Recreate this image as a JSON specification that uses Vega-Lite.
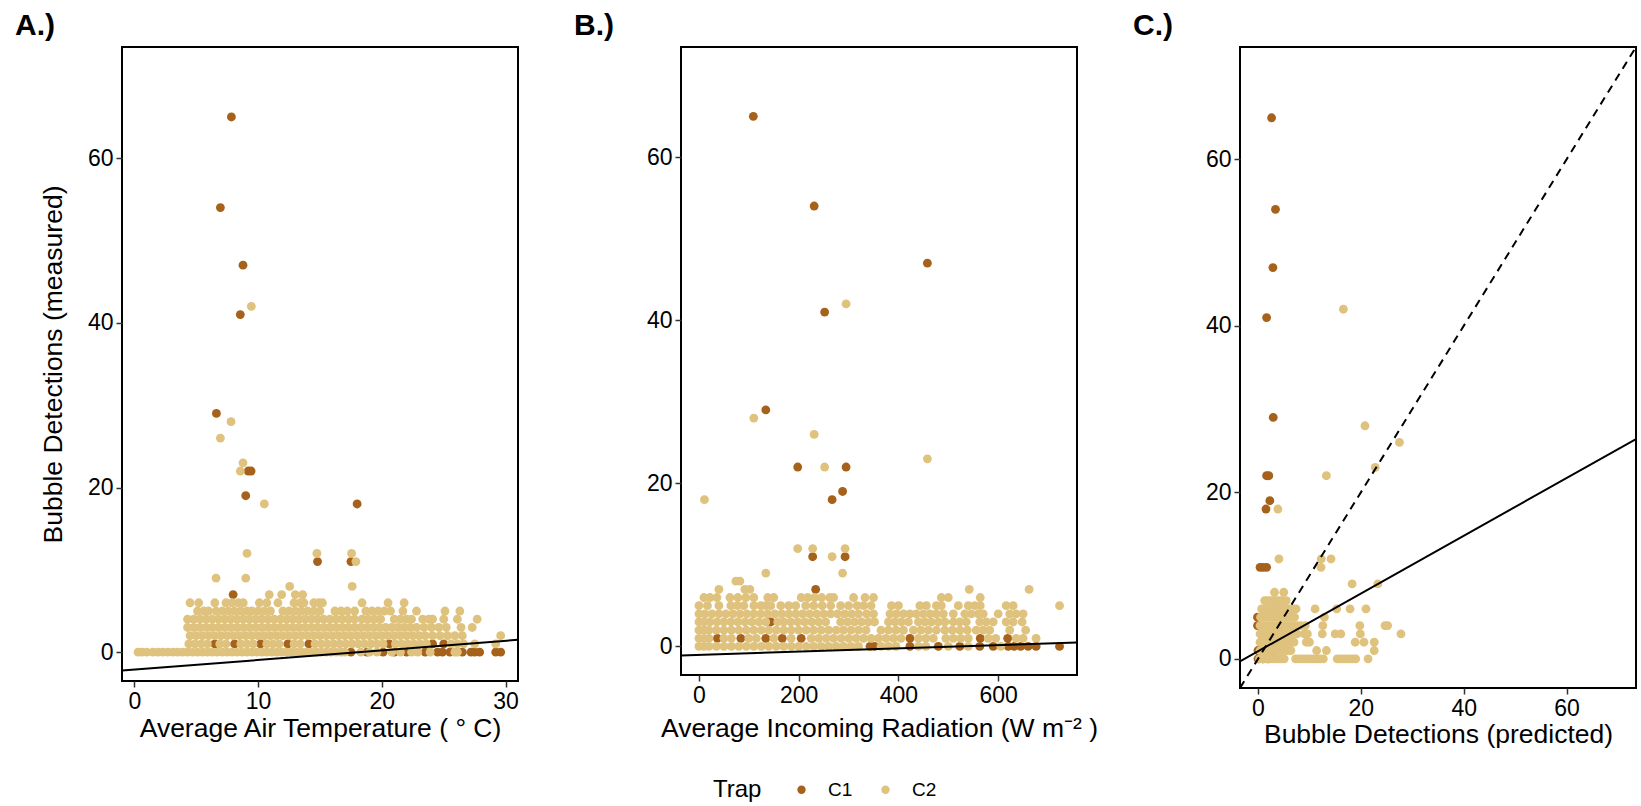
{
"$schema": "https://vega.github.io/schema/vega-lite/v6.json",
"padding": {"left": 14, "top": 10, "right": 5, "bottom": 5},
"background": "white",
"config": {
 "font": "Liberation Sans",
 "view": {"stroke": "black", "strokeWidth": 2},
 "axis": {"domain": false, "grid": false, "tickColor": "#333333", "tickSize": 6, "tickWidth": 1.5, "labelFontSize": 23, "labelColor": "black", "labelPadding": 3, "titleFontSize": 26.5, "titleFontWeight": "normal", "titleColor": "black", "labelFont": "Liberation Sans", "titleFont": "Liberation Sans"},
 "title": {"font": "Liberation Sans", "fontSize": 30, "fontWeight": "bold", "anchor": "start", "frame": "group", "dx": -107, "offset": 6, "color": "black"},
 "legend": {"labelFont": "Liberation Sans", "titleFont": "Liberation Sans"}
},
"datasets": {
 "a": [
{"x":7.84,"y":65,"Trap":"C1"},{"x":6.95,"y":54,"Trap":"C1"},{"x":8.78,"y":47,"Trap":"C1"},{"x":8.56,"y":41,"Trap":"C1"},{"x":6.63,"y":29,"Trap":"C1"},{"x":9.2,"y":22,"Trap":"C1"},{"x":9.43,"y":22,"Trap":"C1"},{"x":9.0,"y":19,"Trap":"C1"},{"x":18.0,"y":18,"Trap":"C1"},{"x":14.8,"y":11,"Trap":"C1"},{"x":17.5,"y":11,"Trap":"C1"},{"x":7.98,"y":7,"Trap":"C1"},
{"x":6.5,"y":1,"Trap":"C1"},{"x":8.1,"y":1,"Trap":"C1"},{"x":10.2,"y":1,"Trap":"C1"},{"x":12.4,"y":1,"Trap":"C1"},{"x":14.1,"y":1,"Trap":"C1"},{"x":20.6,"y":1,"Trap":"C1"},{"x":24.1,"y":1,"Trap":"C1"},{"x":25.0,"y":1,"Trap":"C1"},
{"x":17.5,"y":0,"Trap":"C1"},{"x":18.8,"y":0,"Trap":"C1"},{"x":20.1,"y":0,"Trap":"C1"},{"x":21.0,"y":0,"Trap":"C1"},{"x":22.0,"y":0,"Trap":"C1"},{"x":23.5,"y":0,"Trap":"C1"},{"x":24.5,"y":0,"Trap":"C1"},{"x":24.9,"y":0,"Trap":"C1"},{"x":25.5,"y":0,"Trap":"C1"},{"x":26.5,"y":0,"Trap":"C1"},{"x":27.2,"y":0,"Trap":"C1"},{"x":27.5,"y":0,"Trap":"C1"},{"x":27.9,"y":0,"Trap":"C1"},{"x":29.2,"y":0,"Trap":"C1"},{"x":29.6,"y":0,"Trap":"C1"},
{"x":9.45,"y":42,"Trap":"C2"},{"x":7.81,"y":28,"Trap":"C2"},{"x":6.95,"y":26,"Trap":"C2"},{"x":8.78,"y":23,"Trap":"C2"},{"x":8.56,"y":22,"Trap":"C2"},{"x":10.5,"y":18,"Trap":"C2"},{"x":9.1,"y":12,"Trap":"C2"},{"x":14.75,"y":12,"Trap":"C2"},{"x":17.55,"y":12,"Trap":"C2"},{"x":17.9,"y":11,"Trap":"C2"},{"x":6.6,"y":9,"Trap":"C2"},{"x":9.0,"y":9,"Trap":"C2"},{"x":17.6,"y":8,"Trap":"C2"},{"x":12.55,"y":8,"Trap":"C2"},
{"x":10.9,"y":7,"Trap":"C2"},{"x":11.9,"y":7,"Trap":"C2"},{"x":13.0,"y":7,"Trap":"C2"},{"x":13.6,"y":7,"Trap":"C2"},
{"x":4.5,"y":6,"Trap":"C2"},{"x":5.2,"y":6,"Trap":"C2"},{"x":6.5,"y":6,"Trap":"C2"},{"x":7.4,"y":6,"Trap":"C2"},{"x":7.9,"y":6,"Trap":"C2"},{"x":8.4,"y":6,"Trap":"C2"},{"x":8.8,"y":6,"Trap":"C2"},{"x":10.1,"y":6,"Trap":"C2"},{"x":10.7,"y":6,"Trap":"C2"},{"x":11.6,"y":6,"Trap":"C2"},{"x":12.9,"y":6,"Trap":"C2"},{"x":13.4,"y":6,"Trap":"C2"},{"x":13.7,"y":6,"Trap":"C2"},{"x":14.5,"y":6,"Trap":"C2"},{"x":14.9,"y":6,"Trap":"C2"},{"x":15.2,"y":6,"Trap":"C2"},{"x":18.4,"y":6,"Trap":"C2"},{"x":20.5,"y":6,"Trap":"C2"},{"x":21.8,"y":6,"Trap":"C2"},
{"x":5.1,"y":5,"Trap":"C2"},{"x":5.6,"y":5,"Trap":"C2"},{"x":6.0,"y":5,"Trap":"C2"},{"x":6.6,"y":5,"Trap":"C2"},{"x":7.1,"y":5,"Trap":"C2"},{"x":7.6,"y":5,"Trap":"C2"},{"x":8.1,"y":5,"Trap":"C2"},{"x":8.6,"y":5,"Trap":"C2"},{"x":9.1,"y":5,"Trap":"C2"},{"x":9.5,"y":5,"Trap":"C2"},{"x":10.0,"y":5,"Trap":"C2"},{"x":10.5,"y":5,"Trap":"C2"},{"x":11.0,"y":5,"Trap":"C2"},{"x":12.0,"y":5,"Trap":"C2"},{"x":12.5,"y":5,"Trap":"C2"},{"x":13.0,"y":5,"Trap":"C2"},{"x":13.5,"y":5,"Trap":"C2"},{"x":14.0,"y":5,"Trap":"C2"},{"x":14.5,"y":5,"Trap":"C2"},{"x":15.0,"y":5,"Trap":"C2"},{"x":16.2,"y":5,"Trap":"C2"},{"x":16.7,"y":5,"Trap":"C2"},{"x":17.2,"y":5,"Trap":"C2"},{"x":17.8,"y":5,"Trap":"C2"},{"x":18.7,"y":5,"Trap":"C2"},{"x":19.2,"y":5,"Trap":"C2"},{"x":19.7,"y":5,"Trap":"C2"},{"x":20.2,"y":5,"Trap":"C2"},{"x":20.7,"y":5,"Trap":"C2"},{"x":21.7,"y":5,"Trap":"C2"},{"x":22.8,"y":5,"Trap":"C2"},{"x":25.1,"y":5,"Trap":"C2"},{"x":26.3,"y":5,"Trap":"C2"},
{"x":4.3,"y":4,"Trap":"C2"},{"x":4.8,"y":4,"Trap":"C2"},{"x":5.3,"y":4,"Trap":"C2"},{"x":5.8,"y":4,"Trap":"C2"},{"x":6.3,"y":4,"Trap":"C2"},{"x":6.8,"y":4,"Trap":"C2"},{"x":7.3,"y":4,"Trap":"C2"},{"x":7.8,"y":4,"Trap":"C2"},{"x":8.3,"y":4,"Trap":"C2"},{"x":8.8,"y":4,"Trap":"C2"},{"x":9.3,"y":4,"Trap":"C2"},{"x":9.8,"y":4,"Trap":"C2"},{"x":10.3,"y":4,"Trap":"C2"},{"x":10.8,"y":4,"Trap":"C2"},{"x":11.3,"y":4,"Trap":"C2"},{"x":11.8,"y":4,"Trap":"C2"},{"x":12.3,"y":4,"Trap":"C2"},{"x":12.8,"y":4,"Trap":"C2"},{"x":13.3,"y":4,"Trap":"C2"},{"x":13.8,"y":4,"Trap":"C2"},{"x":14.3,"y":4,"Trap":"C2"},{"x":14.8,"y":4,"Trap":"C2"},{"x":15.3,"y":4,"Trap":"C2"},{"x":15.8,"y":4,"Trap":"C2"},{"x":16.3,"y":4,"Trap":"C2"},{"x":16.8,"y":4,"Trap":"C2"},{"x":17.3,"y":4,"Trap":"C2"},{"x":17.8,"y":4,"Trap":"C2"},{"x":18.4,"y":4,"Trap":"C2"},{"x":18.9,"y":4,"Trap":"C2"},{"x":19.4,"y":4,"Trap":"C2"},{"x":19.9,"y":4,"Trap":"C2"},{"x":21.0,"y":4,"Trap":"C2"},{"x":21.5,"y":4,"Trap":"C2"},{"x":22.0,"y":4,"Trap":"C2"},{"x":22.4,"y":4,"Trap":"C2"},{"x":23.3,"y":4,"Trap":"C2"},{"x":23.8,"y":4,"Trap":"C2"},{"x":24.1,"y":4,"Trap":"C2"},{"x":25.0,"y":4,"Trap":"C2"},{"x":26.1,"y":4,"Trap":"C2"},{"x":27.7,"y":4,"Trap":"C2"},
{"x":4.3,"y":3,"Trap":"C2"},{"x":4.8,"y":3,"Trap":"C2"},{"x":5.3,"y":3,"Trap":"C2"},{"x":5.8,"y":3,"Trap":"C2"},{"x":6.3,"y":3,"Trap":"C2"},{"x":6.8,"y":3,"Trap":"C2"},{"x":7.3,"y":3,"Trap":"C2"},{"x":7.8,"y":3,"Trap":"C2"},{"x":8.3,"y":3,"Trap":"C2"},{"x":8.8,"y":3,"Trap":"C2"},{"x":9.3,"y":3,"Trap":"C2"},{"x":9.8,"y":3,"Trap":"C2"},{"x":10.3,"y":3,"Trap":"C2"},{"x":10.8,"y":3,"Trap":"C2"},{"x":11.3,"y":3,"Trap":"C2"},{"x":11.8,"y":3,"Trap":"C2"},{"x":12.3,"y":3,"Trap":"C2"},{"x":12.8,"y":3,"Trap":"C2"},{"x":13.3,"y":3,"Trap":"C2"},{"x":13.8,"y":3,"Trap":"C2"},{"x":14.3,"y":3,"Trap":"C2"},{"x":14.8,"y":3,"Trap":"C2"},{"x":15.3,"y":3,"Trap":"C2"},{"x":15.8,"y":3,"Trap":"C2"},{"x":16.3,"y":3,"Trap":"C2"},{"x":16.8,"y":3,"Trap":"C2"},{"x":17.3,"y":3,"Trap":"C2"},{"x":17.8,"y":3,"Trap":"C2"},{"x":18.3,"y":3,"Trap":"C2"},{"x":18.8,"y":3,"Trap":"C2"},{"x":19.3,"y":3,"Trap":"C2"},{"x":19.8,"y":3,"Trap":"C2"},{"x":20.3,"y":3,"Trap":"C2"},{"x":20.8,"y":3,"Trap":"C2"},{"x":21.3,"y":3,"Trap":"C2"},{"x":21.8,"y":3,"Trap":"C2"},{"x":22.3,"y":3,"Trap":"C2"},{"x":22.8,"y":3,"Trap":"C2"},{"x":23.4,"y":3,"Trap":"C2"},{"x":24.0,"y":3,"Trap":"C2"},{"x":24.6,"y":3,"Trap":"C2"},{"x":25.2,"y":3,"Trap":"C2"},{"x":26.4,"y":3,"Trap":"C2"},{"x":27.3,"y":3,"Trap":"C2"},
{"x":4.5,"y":2,"Trap":"C2"},{"x":5.0,"y":2,"Trap":"C2"},{"x":5.5,"y":2,"Trap":"C2"},{"x":6.0,"y":2,"Trap":"C2"},{"x":6.5,"y":2,"Trap":"C2"},{"x":7.0,"y":2,"Trap":"C2"},{"x":7.5,"y":2,"Trap":"C2"},{"x":8.0,"y":2,"Trap":"C2"},{"x":8.5,"y":2,"Trap":"C2"},{"x":9.0,"y":2,"Trap":"C2"},{"x":9.5,"y":2,"Trap":"C2"},{"x":10.0,"y":2,"Trap":"C2"},{"x":10.5,"y":2,"Trap":"C2"},{"x":11.0,"y":2,"Trap":"C2"},{"x":11.5,"y":2,"Trap":"C2"},{"x":12.0,"y":2,"Trap":"C2"},{"x":12.5,"y":2,"Trap":"C2"},{"x":13.0,"y":2,"Trap":"C2"},{"x":13.5,"y":2,"Trap":"C2"},{"x":14.0,"y":2,"Trap":"C2"},{"x":14.5,"y":2,"Trap":"C2"},{"x":15.0,"y":2,"Trap":"C2"},{"x":15.5,"y":2,"Trap":"C2"},{"x":16.0,"y":2,"Trap":"C2"},{"x":16.5,"y":2,"Trap":"C2"},{"x":17.0,"y":2,"Trap":"C2"},{"x":17.5,"y":2,"Trap":"C2"},{"x":18.0,"y":2,"Trap":"C2"},{"x":18.5,"y":2,"Trap":"C2"},{"x":19.0,"y":2,"Trap":"C2"},{"x":19.5,"y":2,"Trap":"C2"},{"x":20.0,"y":2,"Trap":"C2"},{"x":20.5,"y":2,"Trap":"C2"},{"x":21.0,"y":2,"Trap":"C2"},{"x":21.5,"y":2,"Trap":"C2"},{"x":22.0,"y":2,"Trap":"C2"},{"x":22.5,"y":2,"Trap":"C2"},{"x":23.0,"y":2,"Trap":"C2"},{"x":23.5,"y":2,"Trap":"C2"},{"x":24.1,"y":2,"Trap":"C2"},{"x":24.7,"y":2,"Trap":"C2"},{"x":25.3,"y":2,"Trap":"C2"},{"x":25.9,"y":2,"Trap":"C2"},{"x":26.5,"y":2,"Trap":"C2"},{"x":29.6,"y":2,"Trap":"C2"},
{"x":4.4,"y":1,"Trap":"C2"},{"x":4.9,"y":1,"Trap":"C2"},{"x":5.4,"y":1,"Trap":"C2"},{"x":5.9,"y":1,"Trap":"C2"},{"x":6.9,"y":1,"Trap":"C2"},{"x":7.4,"y":1,"Trap":"C2"},{"x":8.6,"y":1,"Trap":"C2"},{"x":9.1,"y":1,"Trap":"C2"},{"x":9.6,"y":1,"Trap":"C2"},{"x":10.7,"y":1,"Trap":"C2"},{"x":11.2,"y":1,"Trap":"C2"},{"x":11.7,"y":1,"Trap":"C2"},{"x":12.9,"y":1,"Trap":"C2"},{"x":13.4,"y":1,"Trap":"C2"},{"x":14.6,"y":1,"Trap":"C2"},{"x":15.1,"y":1,"Trap":"C2"},{"x":15.6,"y":1,"Trap":"C2"},{"x":16.1,"y":1,"Trap":"C2"},{"x":16.6,"y":1,"Trap":"C2"},{"x":17.1,"y":1,"Trap":"C2"},{"x":17.6,"y":1,"Trap":"C2"},{"x":18.1,"y":1,"Trap":"C2"},{"x":18.6,"y":1,"Trap":"C2"},{"x":19.1,"y":1,"Trap":"C2"},{"x":19.6,"y":1,"Trap":"C2"},{"x":20.1,"y":1,"Trap":"C2"},{"x":21.1,"y":1,"Trap":"C2"},{"x":21.6,"y":1,"Trap":"C2"},{"x":22.1,"y":1,"Trap":"C2"},{"x":22.6,"y":1,"Trap":"C2"},{"x":23.1,"y":1,"Trap":"C2"},{"x":23.6,"y":1,"Trap":"C2"},{"x":25.6,"y":1,"Trap":"C2"},{"x":26.1,"y":1,"Trap":"C2"},{"x":26.6,"y":1,"Trap":"C2"},{"x":27.5,"y":1,"Trap":"C2"},{"x":29.2,"y":1,"Trap":"C2"},
{"x":0.3,"y":0,"Trap":"C2"},{"x":0.6,"y":0,"Trap":"C2"},{"x":1.0,"y":0,"Trap":"C2"},{"x":1.5,"y":0,"Trap":"C2"},{"x":1.9,"y":0,"Trap":"C2"},{"x":2.3,"y":0,"Trap":"C2"},{"x":2.7,"y":0,"Trap":"C2"},{"x":3.1,"y":0,"Trap":"C2"},{"x":3.5,"y":0,"Trap":"C2"},{"x":3.9,"y":0,"Trap":"C2"},{"x":4.3,"y":0,"Trap":"C2"},{"x":4.7,"y":0,"Trap":"C2"},{"x":5.1,"y":0,"Trap":"C2"},{"x":5.5,"y":0,"Trap":"C2"},{"x":5.9,"y":0,"Trap":"C2"},{"x":6.3,"y":0,"Trap":"C2"},{"x":6.7,"y":0,"Trap":"C2"},{"x":7.1,"y":0,"Trap":"C2"},{"x":7.5,"y":0,"Trap":"C2"},{"x":7.9,"y":0,"Trap":"C2"},{"x":8.3,"y":0,"Trap":"C2"},{"x":8.7,"y":0,"Trap":"C2"},{"x":9.1,"y":0,"Trap":"C2"},{"x":9.5,"y":0,"Trap":"C2"},{"x":9.9,"y":0,"Trap":"C2"},{"x":10.3,"y":0,"Trap":"C2"},{"x":10.7,"y":0,"Trap":"C2"},{"x":11.1,"y":0,"Trap":"C2"},{"x":11.5,"y":0,"Trap":"C2"},{"x":11.9,"y":0,"Trap":"C2"},{"x":12.3,"y":0,"Trap":"C2"},{"x":12.7,"y":0,"Trap":"C2"},{"x":13.1,"y":0,"Trap":"C2"},{"x":13.5,"y":0,"Trap":"C2"},{"x":13.9,"y":0,"Trap":"C2"},{"x":14.3,"y":0,"Trap":"C2"},{"x":14.7,"y":0,"Trap":"C2"},{"x":15.1,"y":0,"Trap":"C2"},{"x":15.5,"y":0,"Trap":"C2"},{"x":15.9,"y":0,"Trap":"C2"},{"x":16.3,"y":0,"Trap":"C2"},{"x":16.7,"y":0,"Trap":"C2"},{"x":17.0,"y":0,"Trap":"C2"},{"x":18.3,"y":0,"Trap":"C2"},{"x":19.0,"y":0,"Trap":"C2"},{"x":19.6,"y":0,"Trap":"C2"},{"x":20.8,"y":0,"Trap":"C2"},{"x":21.5,"y":0,"Trap":"C2"},{"x":22.4,"y":0,"Trap":"C2"},{"x":22.9,"y":0,"Trap":"C2"},{"x":23.9,"y":0,"Trap":"C2"},{"x":25.9,"y":0,"Trap":"C2"},{"x":26.1,"y":0,"Trap":"C2"}
 ],
 "b": [
{"x":109,"y":65,"Trap":"C1"},{"x":231,"y":54,"Trap":"C1"},{"x":458,"y":47,"Trap":"C1"},{"x":252,"y":41,"Trap":"C1"},{"x":134,"y":29,"Trap":"C1"},{"x":198,"y":22,"Trap":"C1"},{"x":295,"y":22,"Trap":"C1"},{"x":288,"y":19,"Trap":"C1"},{"x":267,"y":18,"Trap":"C1"},{"x":228,"y":11,"Trap":"C1"},{"x":293,"y":11,"Trap":"C1"},{"x":234,"y":7,"Trap":"C1"},{"x":144,"y":3,"Trap":"C1"},
{"x":37,"y":1,"Trap":"C1"},{"x":84,"y":1,"Trap":"C1"},{"x":134,"y":1,"Trap":"C1"},{"x":167,"y":1,"Trap":"C1"},{"x":205,"y":1,"Trap":"C1"},{"x":423,"y":1,"Trap":"C1"},{"x":564,"y":1,"Trap":"C1"},{"x":619,"y":1,"Trap":"C1"},
{"x":343,"y":0,"Trap":"C1"},{"x":352,"y":0,"Trap":"C1"},{"x":423,"y":0,"Trap":"C1"},{"x":480,"y":0,"Trap":"C1"},{"x":523,"y":0,"Trap":"C1"},{"x":563,"y":0,"Trap":"C1"},{"x":590,"y":0,"Trap":"C1"},{"x":620,"y":0,"Trap":"C1"},{"x":632,"y":0,"Trap":"C1"},{"x":645,"y":0,"Trap":"C1"},{"x":660,"y":0,"Trap":"C1"},{"x":676,"y":0,"Trap":"C1"},{"x":723,"y":0,"Trap":"C1"},
{"x":295,"y":42,"Trap":"C2"},{"x":110,"y":28,"Trap":"C2"},{"x":231,"y":26,"Trap":"C2"},{"x":458,"y":23,"Trap":"C2"},{"x":252,"y":22,"Trap":"C2"},{"x":11,"y":18,"Trap":"C2"},{"x":198,"y":12,"Trap":"C2"},{"x":228,"y":12,"Trap":"C2"},{"x":293,"y":12,"Trap":"C2"},{"x":267,"y":11,"Trap":"C2"},{"x":134,"y":9,"Trap":"C2"},{"x":288,"y":9,"Trap":"C2"},{"x":74,"y":8,"Trap":"C2"},{"x":82,"y":8,"Trap":"C2"},{"x":40,"y":7,"Trap":"C2"},{"x":92,"y":7,"Trap":"C2"},{"x":102,"y":7,"Trap":"C2"},{"x":542,"y":7,"Trap":"C2"},{"x":662,"y":7,"Trap":"C2"},{"x":723,"y":5,"Trap":"C2"},
{"x":10,"y":6,"Trap":"C2"},{"x":22,"y":6,"Trap":"C2"},{"x":36,"y":6,"Trap":"C2"},{"x":62,"y":6,"Trap":"C2"},{"x":78,"y":6,"Trap":"C2"},{"x":94,"y":6,"Trap":"C2"},{"x":110,"y":6,"Trap":"C2"},{"x":138,"y":6,"Trap":"C2"},{"x":150,"y":6,"Trap":"C2"},{"x":205,"y":6,"Trap":"C2"},{"x":218,"y":6,"Trap":"C2"},{"x":232,"y":6,"Trap":"C2"},{"x":246,"y":6,"Trap":"C2"},{"x":262,"y":6,"Trap":"C2"},{"x":270,"y":6,"Trap":"C2"},{"x":310,"y":6,"Trap":"C2"},{"x":333,"y":6,"Trap":"C2"},{"x":350,"y":6,"Trap":"C2"},{"x":486,"y":6,"Trap":"C2"},{"x":500,"y":6,"Trap":"C2"},{"x":564,"y":6,"Trap":"C2"},
{"x":0,"y":5,"Trap":"C2"},{"x":17,"y":5,"Trap":"C2"},{"x":40,"y":5,"Trap":"C2"},{"x":64,"y":5,"Trap":"C2"},{"x":77,"y":5,"Trap":"C2"},{"x":90,"y":5,"Trap":"C2"},{"x":110,"y":5,"Trap":"C2"},{"x":124,"y":5,"Trap":"C2"},{"x":134,"y":5,"Trap":"C2"},{"x":144,"y":5,"Trap":"C2"},{"x":164,"y":5,"Trap":"C2"},{"x":180,"y":5,"Trap":"C2"},{"x":194,"y":5,"Trap":"C2"},{"x":214,"y":5,"Trap":"C2"},{"x":230,"y":5,"Trap":"C2"},{"x":247,"y":5,"Trap":"C2"},{"x":264,"y":5,"Trap":"C2"},{"x":284,"y":5,"Trap":"C2"},{"x":300,"y":5,"Trap":"C2"},{"x":317,"y":5,"Trap":"C2"},{"x":330,"y":5,"Trap":"C2"},{"x":345,"y":5,"Trap":"C2"},{"x":386,"y":5,"Trap":"C2"},{"x":400,"y":5,"Trap":"C2"},{"x":443,"y":5,"Trap":"C2"},{"x":456,"y":5,"Trap":"C2"},{"x":476,"y":5,"Trap":"C2"},{"x":486,"y":5,"Trap":"C2"},{"x":520,"y":5,"Trap":"C2"},{"x":540,"y":5,"Trap":"C2"},{"x":553,"y":5,"Trap":"C2"},{"x":564,"y":5,"Trap":"C2"},{"x":616,"y":5,"Trap":"C2"},{"x":630,"y":5,"Trap":"C2"},
{"x":0,"y":4,"Trap":"C2"},{"x":12,"y":4,"Trap":"C2"},{"x":26,"y":4,"Trap":"C2"},{"x":40,"y":4,"Trap":"C2"},{"x":54,"y":4,"Trap":"C2"},{"x":68,"y":4,"Trap":"C2"},{"x":82,"y":4,"Trap":"C2"},{"x":96,"y":4,"Trap":"C2"},{"x":110,"y":4,"Trap":"C2"},{"x":124,"y":4,"Trap":"C2"},{"x":138,"y":4,"Trap":"C2"},{"x":152,"y":4,"Trap":"C2"},{"x":166,"y":4,"Trap":"C2"},{"x":180,"y":4,"Trap":"C2"},{"x":194,"y":4,"Trap":"C2"},{"x":208,"y":4,"Trap":"C2"},{"x":222,"y":4,"Trap":"C2"},{"x":236,"y":4,"Trap":"C2"},{"x":250,"y":4,"Trap":"C2"},{"x":264,"y":4,"Trap":"C2"},{"x":278,"y":4,"Trap":"C2"},{"x":292,"y":4,"Trap":"C2"},{"x":306,"y":4,"Trap":"C2"},{"x":320,"y":4,"Trap":"C2"},{"x":336,"y":4,"Trap":"C2"},{"x":350,"y":4,"Trap":"C2"},{"x":383,"y":4,"Trap":"C2"},{"x":396,"y":4,"Trap":"C2"},{"x":410,"y":4,"Trap":"C2"},{"x":423,"y":4,"Trap":"C2"},{"x":436,"y":4,"Trap":"C2"},{"x":450,"y":4,"Trap":"C2"},{"x":463,"y":4,"Trap":"C2"},{"x":476,"y":4,"Trap":"C2"},{"x":490,"y":4,"Trap":"C2"},{"x":510,"y":4,"Trap":"C2"},{"x":533,"y":4,"Trap":"C2"},{"x":546,"y":4,"Trap":"C2"},{"x":560,"y":4,"Trap":"C2"},{"x":570,"y":4,"Trap":"C2"},{"x":600,"y":4,"Trap":"C2"},{"x":623,"y":4,"Trap":"C2"},{"x":636,"y":4,"Trap":"C2"},{"x":650,"y":4,"Trap":"C2"},
{"x":0,"y":3,"Trap":"C2"},{"x":10,"y":3,"Trap":"C2"},{"x":22,"y":3,"Trap":"C2"},{"x":36,"y":3,"Trap":"C2"},{"x":50,"y":3,"Trap":"C2"},{"x":64,"y":3,"Trap":"C2"},{"x":78,"y":3,"Trap":"C2"},{"x":92,"y":3,"Trap":"C2"},{"x":106,"y":3,"Trap":"C2"},{"x":120,"y":3,"Trap":"C2"},{"x":134,"y":3,"Trap":"C2"},{"x":158,"y":3,"Trap":"C2"},{"x":170,"y":3,"Trap":"C2"},{"x":184,"y":3,"Trap":"C2"},{"x":198,"y":3,"Trap":"C2"},{"x":212,"y":3,"Trap":"C2"},{"x":226,"y":3,"Trap":"C2"},{"x":240,"y":3,"Trap":"C2"},{"x":254,"y":3,"Trap":"C2"},{"x":284,"y":3,"Trap":"C2"},{"x":298,"y":3,"Trap":"C2"},{"x":312,"y":3,"Trap":"C2"},{"x":326,"y":3,"Trap":"C2"},{"x":340,"y":3,"Trap":"C2"},{"x":352,"y":3,"Trap":"C2"},{"x":380,"y":3,"Trap":"C2"},{"x":393,"y":3,"Trap":"C2"},{"x":406,"y":3,"Trap":"C2"},{"x":420,"y":3,"Trap":"C2"},{"x":440,"y":3,"Trap":"C2"},{"x":453,"y":3,"Trap":"C2"},{"x":466,"y":3,"Trap":"C2"},{"x":480,"y":3,"Trap":"C2"},{"x":493,"y":3,"Trap":"C2"},{"x":510,"y":3,"Trap":"C2"},{"x":523,"y":3,"Trap":"C2"},{"x":536,"y":3,"Trap":"C2"},{"x":563,"y":3,"Trap":"C2"},{"x":576,"y":3,"Trap":"C2"},{"x":590,"y":3,"Trap":"C2"},{"x":616,"y":3,"Trap":"C2"},{"x":630,"y":3,"Trap":"C2"},{"x":648,"y":3,"Trap":"C2"},
{"x":0,"y":2,"Trap":"C2"},{"x":10,"y":2,"Trap":"C2"},{"x":20,"y":2,"Trap":"C2"},{"x":35,"y":2,"Trap":"C2"},{"x":50,"y":2,"Trap":"C2"},{"x":65,"y":2,"Trap":"C2"},{"x":80,"y":2,"Trap":"C2"},{"x":95,"y":2,"Trap":"C2"},{"x":110,"y":2,"Trap":"C2"},{"x":125,"y":2,"Trap":"C2"},{"x":140,"y":2,"Trap":"C2"},{"x":155,"y":2,"Trap":"C2"},{"x":170,"y":2,"Trap":"C2"},{"x":185,"y":2,"Trap":"C2"},{"x":200,"y":2,"Trap":"C2"},{"x":215,"y":2,"Trap":"C2"},{"x":230,"y":2,"Trap":"C2"},{"x":245,"y":2,"Trap":"C2"},{"x":260,"y":2,"Trap":"C2"},{"x":275,"y":2,"Trap":"C2"},{"x":290,"y":2,"Trap":"C2"},{"x":305,"y":2,"Trap":"C2"},{"x":320,"y":2,"Trap":"C2"},{"x":335,"y":2,"Trap":"C2"},{"x":365,"y":2,"Trap":"C2"},{"x":380,"y":2,"Trap":"C2"},{"x":395,"y":2,"Trap":"C2"},{"x":410,"y":2,"Trap":"C2"},{"x":430,"y":2,"Trap":"C2"},{"x":445,"y":2,"Trap":"C2"},{"x":460,"y":2,"Trap":"C2"},{"x":476,"y":2,"Trap":"C2"},{"x":493,"y":2,"Trap":"C2"},{"x":508,"y":2,"Trap":"C2"},{"x":523,"y":2,"Trap":"C2"},{"x":538,"y":2,"Trap":"C2"},{"x":556,"y":2,"Trap":"C2"},{"x":570,"y":2,"Trap":"C2"},{"x":583,"y":2,"Trap":"C2"},{"x":623,"y":2,"Trap":"C2"},{"x":655,"y":2,"Trap":"C2"},
{"x":0,"y":1,"Trap":"C2"},{"x":10,"y":1,"Trap":"C2"},{"x":20,"y":1,"Trap":"C2"},{"x":50,"y":1,"Trap":"C2"},{"x":65,"y":1,"Trap":"C2"},{"x":100,"y":1,"Trap":"C2"},{"x":115,"y":1,"Trap":"C2"},{"x":150,"y":1,"Trap":"C2"},{"x":185,"y":1,"Trap":"C2"},{"x":225,"y":1,"Trap":"C2"},{"x":240,"y":1,"Trap":"C2"},{"x":255,"y":1,"Trap":"C2"},{"x":270,"y":1,"Trap":"C2"},{"x":285,"y":1,"Trap":"C2"},{"x":300,"y":1,"Trap":"C2"},{"x":315,"y":1,"Trap":"C2"},{"x":330,"y":1,"Trap":"C2"},{"x":345,"y":1,"Trap":"C2"},{"x":360,"y":1,"Trap":"C2"},{"x":375,"y":1,"Trap":"C2"},{"x":390,"y":1,"Trap":"C2"},{"x":405,"y":1,"Trap":"C2"},{"x":440,"y":1,"Trap":"C2"},{"x":455,"y":1,"Trap":"C2"},{"x":470,"y":1,"Trap":"C2"},{"x":495,"y":1,"Trap":"C2"},{"x":510,"y":1,"Trap":"C2"},{"x":525,"y":1,"Trap":"C2"},{"x":540,"y":1,"Trap":"C2"},{"x":580,"y":1,"Trap":"C2"},{"x":595,"y":1,"Trap":"C2"},{"x":636,"y":1,"Trap":"C2"},{"x":650,"y":1,"Trap":"C2"},{"x":676,"y":1,"Trap":"C2"},
{"x":0,"y":0,"Trap":"C2"},{"x":10,"y":0,"Trap":"C2"},{"x":20,"y":0,"Trap":"C2"},{"x":35,"y":0,"Trap":"C2"},{"x":50,"y":0,"Trap":"C2"},{"x":65,"y":0,"Trap":"C2"},{"x":80,"y":0,"Trap":"C2"},{"x":95,"y":0,"Trap":"C2"},{"x":110,"y":0,"Trap":"C2"},{"x":125,"y":0,"Trap":"C2"},{"x":140,"y":0,"Trap":"C2"},{"x":155,"y":0,"Trap":"C2"},{"x":170,"y":0,"Trap":"C2"},{"x":185,"y":0,"Trap":"C2"},{"x":200,"y":0,"Trap":"C2"},{"x":215,"y":0,"Trap":"C2"},{"x":230,"y":0,"Trap":"C2"},{"x":245,"y":0,"Trap":"C2"},{"x":260,"y":0,"Trap":"C2"},{"x":275,"y":0,"Trap":"C2"},{"x":290,"y":0,"Trap":"C2"},{"x":305,"y":0,"Trap":"C2"},{"x":320,"y":0,"Trap":"C2"},{"x":365,"y":0,"Trap":"C2"},{"x":380,"y":0,"Trap":"C2"},{"x":395,"y":0,"Trap":"C2"},{"x":440,"y":0,"Trap":"C2"},{"x":455,"y":0,"Trap":"C2"},{"x":500,"y":0,"Trap":"C2"},{"x":540,"y":0,"Trap":"C2"},{"x":605,"y":0,"Trap":"C2"}
 ],
 "c": [
{"x":2.64,"y":65,"Trap":"C1"},{"x":3.4,"y":54,"Trap":"C1"},{"x":2.9,"y":47,"Trap":"C1"},{"x":1.67,"y":41,"Trap":"C1"},{"x":2.96,"y":29,"Trap":"C1"},{"x":1.67,"y":22,"Trap":"C1"},{"x":2.1,"y":22,"Trap":"C1"},{"x":2.3,"y":19,"Trap":"C1"},{"x":1.55,"y":18,"Trap":"C1"},{"x":0.4,"y":11,"Trap":"C1"},{"x":1.0,"y":11,"Trap":"C1"},{"x":1.67,"y":11,"Trap":"C1"},
{"x":-0.1,"y":5,"Trap":"C1"},{"x":-0.1,"y":4,"Trap":"C1"},{"x":0.0,"y":1,"Trap":"C1"},{"x":0.0,"y":0,"Trap":"C1"},{"x":1.0,"y":0,"Trap":"C1"},{"x":2.0,"y":0,"Trap":"C1"},{"x":3.0,"y":1,"Trap":"C1"},{"x":2.0,"y":2,"Trap":"C1"},
{"x":16.6,"y":42,"Trap":"C2"},{"x":20.8,"y":28,"Trap":"C2"},{"x":27.5,"y":26,"Trap":"C2"},{"x":22.8,"y":23,"Trap":"C2"},{"x":13.3,"y":22,"Trap":"C2"},{"x":3.87,"y":18,"Trap":"C2"},{"x":4.06,"y":12,"Trap":"C2"},{"x":12.3,"y":12,"Trap":"C2"},{"x":14.2,"y":12,"Trap":"C2"},{"x":12.25,"y":11,"Trap":"C2"},{"x":18.3,"y":9,"Trap":"C2"},{"x":23.3,"y":9,"Trap":"C2"},{"x":3.2,"y":8,"Trap":"C2"},{"x":5.0,"y":8,"Trap":"C2"},
{"x":1.3,"y":7,"Trap":"C2"},{"x":1.9,"y":7,"Trap":"C2"},{"x":2.5,"y":7,"Trap":"C2"},{"x":3.1,"y":7,"Trap":"C2"},{"x":3.7,"y":7,"Trap":"C2"},{"x":4.3,"y":7,"Trap":"C2"},{"x":4.9,"y":7,"Trap":"C2"},{"x":5.5,"y":7,"Trap":"C2"},
{"x":0.7,"y":6,"Trap":"C2"},{"x":1.3,"y":6,"Trap":"C2"},{"x":1.9,"y":6,"Trap":"C2"},{"x":2.5,"y":6,"Trap":"C2"},{"x":3.1,"y":6,"Trap":"C2"},{"x":3.7,"y":6,"Trap":"C2"},{"x":4.3,"y":6,"Trap":"C2"},{"x":4.9,"y":6,"Trap":"C2"},{"x":5.5,"y":6,"Trap":"C2"},{"x":6.1,"y":6,"Trap":"C2"},{"x":6.8,"y":6,"Trap":"C2"},{"x":7.4,"y":6,"Trap":"C2"},{"x":11.1,"y":6,"Trap":"C2"},{"x":15.3,"y":6,"Trap":"C2"},{"x":17.9,"y":6,"Trap":"C2"},{"x":21.0,"y":6,"Trap":"C2"},
{"x":0.5,"y":5,"Trap":"C2"},{"x":1.1,"y":5,"Trap":"C2"},{"x":1.7,"y":5,"Trap":"C2"},{"x":2.3,"y":5,"Trap":"C2"},{"x":2.9,"y":5,"Trap":"C2"},{"x":3.5,"y":5,"Trap":"C2"},{"x":4.1,"y":5,"Trap":"C2"},{"x":4.7,"y":5,"Trap":"C2"},{"x":5.3,"y":5,"Trap":"C2"},{"x":5.9,"y":5,"Trap":"C2"},{"x":6.5,"y":5,"Trap":"C2"},{"x":7.1,"y":5,"Trap":"C2"},{"x":12.9,"y":5,"Trap":"C2"},
{"x":0.4,"y":4,"Trap":"C2"},{"x":1.0,"y":4,"Trap":"C2"},{"x":1.6,"y":4,"Trap":"C2"},{"x":2.2,"y":4,"Trap":"C2"},{"x":2.8,"y":4,"Trap":"C2"},{"x":3.4,"y":4,"Trap":"C2"},{"x":4.0,"y":4,"Trap":"C2"},{"x":4.6,"y":4,"Trap":"C2"},{"x":5.2,"y":4,"Trap":"C2"},{"x":5.8,"y":4,"Trap":"C2"},{"x":6.4,"y":4,"Trap":"C2"},{"x":7.0,"y":4,"Trap":"C2"},{"x":7.6,"y":4,"Trap":"C2"},{"x":8.3,"y":4,"Trap":"C2"},{"x":9.2,"y":4,"Trap":"C2"},{"x":12.6,"y":4,"Trap":"C2"},{"x":19.8,"y":4,"Trap":"C2"},{"x":24.7,"y":4,"Trap":"C2"},{"x":25.2,"y":4,"Trap":"C2"},
{"x":0.4,"y":3,"Trap":"C2"},{"x":1.0,"y":3,"Trap":"C2"},{"x":1.6,"y":3,"Trap":"C2"},{"x":2.2,"y":3,"Trap":"C2"},{"x":2.8,"y":3,"Trap":"C2"},{"x":3.4,"y":3,"Trap":"C2"},{"x":4.0,"y":3,"Trap":"C2"},{"x":4.6,"y":3,"Trap":"C2"},{"x":5.2,"y":3,"Trap":"C2"},{"x":5.8,"y":3,"Trap":"C2"},{"x":6.4,"y":3,"Trap":"C2"},{"x":7.0,"y":3,"Trap":"C2"},{"x":7.6,"y":3,"Trap":"C2"},{"x":9.0,"y":3,"Trap":"C2"},{"x":9.6,"y":3,"Trap":"C2"},{"x":12.5,"y":3,"Trap":"C2"},{"x":15.0,"y":3,"Trap":"C2"},{"x":16.1,"y":3,"Trap":"C2"},{"x":19.9,"y":3,"Trap":"C2"},{"x":27.8,"y":3,"Trap":"C2"},
{"x":0.4,"y":2,"Trap":"C2"},{"x":1.0,"y":2,"Trap":"C2"},{"x":1.6,"y":2,"Trap":"C2"},{"x":2.2,"y":2,"Trap":"C2"},{"x":2.8,"y":2,"Trap":"C2"},{"x":3.4,"y":2,"Trap":"C2"},{"x":4.0,"y":2,"Trap":"C2"},{"x":4.6,"y":2,"Trap":"C2"},{"x":5.2,"y":2,"Trap":"C2"},{"x":5.8,"y":2,"Trap":"C2"},{"x":6.4,"y":2,"Trap":"C2"},{"x":7.0,"y":2,"Trap":"C2"},{"x":9.4,"y":2,"Trap":"C2"},{"x":10.0,"y":2,"Trap":"C2"},{"x":18.9,"y":2,"Trap":"C2"},{"x":20.6,"y":2,"Trap":"C2"},{"x":22.6,"y":2,"Trap":"C2"},
{"x":0.4,"y":1,"Trap":"C2"},{"x":1.0,"y":1,"Trap":"C2"},{"x":1.6,"y":1,"Trap":"C2"},{"x":2.2,"y":1,"Trap":"C2"},{"x":2.8,"y":1,"Trap":"C2"},{"x":3.4,"y":1,"Trap":"C2"},{"x":4.0,"y":1,"Trap":"C2"},{"x":4.6,"y":1,"Trap":"C2"},{"x":5.2,"y":1,"Trap":"C2"},{"x":5.8,"y":1,"Trap":"C2"},{"x":6.4,"y":1,"Trap":"C2"},{"x":11.4,"y":1,"Trap":"C2"},{"x":13.3,"y":1,"Trap":"C2"},{"x":22.6,"y":1,"Trap":"C2"},
{"x":0.3,"y":0,"Trap":"C2"},{"x":0.9,"y":0,"Trap":"C2"},{"x":1.5,"y":0,"Trap":"C2"},{"x":2.1,"y":0,"Trap":"C2"},{"x":2.7,"y":0,"Trap":"C2"},{"x":3.3,"y":0,"Trap":"C2"},{"x":3.9,"y":0,"Trap":"C2"},{"x":4.5,"y":0,"Trap":"C2"},{"x":5.1,"y":0,"Trap":"C2"},{"x":7.3,"y":0,"Trap":"C2"},{"x":7.9,"y":0,"Trap":"C2"},{"x":8.5,"y":0,"Trap":"C2"},{"x":9.1,"y":0,"Trap":"C2"},{"x":9.7,"y":0,"Trap":"C2"},{"x":10.3,"y":0,"Trap":"C2"},{"x":10.9,"y":0,"Trap":"C2"},{"x":11.5,"y":0,"Trap":"C2"},{"x":12.1,"y":0,"Trap":"C2"},{"x":12.7,"y":0,"Trap":"C2"},{"x":15.4,"y":0,"Trap":"C2"},{"x":16.0,"y":0,"Trap":"C2"},{"x":16.6,"y":0,"Trap":"C2"},{"x":17.2,"y":0,"Trap":"C2"},{"x":17.8,"y":0,"Trap":"C2"},{"x":18.4,"y":0,"Trap":"C2"},{"x":19.0,"y":0,"Trap":"C2"},{"x":21.4,"y":0,"Trap":"C2"}
 ],
 "la": [{"x":-1,"y":-2.23},{"x":31,"y":1.5}],
 "lb": [{"x":-36,"y":-1.1},{"x":758,"y":0.49}],
 "lc": [{"x":-3.5,"y":-0.3},{"x":73.5,"y":26.4}],
 "ld": [{"x":-3.5,"y":-3.5},{"x":73.5,"y":73.5}]
},
"spacing": 163,
"bounds": "flush",
"resolve": {"scale": {"color": "shared", "x": "independent", "y": "independent"}},
"hconcat": [
 {
  "width": 396, "height": 634,
  "title": {"text": "A.)"},
  "layer": [
   {"data": {"name": "a"}, "mark": {"type": "circle", "size": 78, "opacity": 1},
    "encoding": {
     "x": {"field": "x", "type": "quantitative", "scale": {"domain": [-1, 31], "nice": false, "zero": false}, "axis": {"title": "Average Air Temperature ( ° C)", "values": [0, 10, 20, 30], "titlePadding": 2}},
     "y": {"field": "y", "type": "quantitative", "scale": {"domain": [-3.5, 73.5], "nice": false, "zero": false}, "axis": {"title": "Bubble Detections (measured)", "values": [0, 20, 40, 60], "titlePadding": 20}},
     "color": {"field": "Trap", "type": "nominal", "scale": {"domain": ["C1", "C2"], "range": ["#A6611A", "#DFC27D"]},
      "legend": {"orient": "none", "legendX": 591, "legendY": 733, "direction": "horizontal", "titleOrient": "left", "title": "Trap", "titleFontSize": 24, "titleFontWeight": "normal", "titleColor": "black", "labelFontSize": 19, "labelColor": "black", "symbolType": "circle", "symbolSize": 70, "symbolStrokeWidth": 0, "symbolOpacity": 1, "labelOffset": 17, "columnPadding": 23, "titlePadding": 30, "titleAnchor": "middle", "titleBaseline": "middle"}}
    }},
   {"data": {"name": "la"}, "mark": {"type": "line", "color": "black", "strokeWidth": 2, "clip": true},
    "encoding": {"x": {"field": "x", "type": "quantitative"}, "y": {"field": "y", "type": "quantitative"}}}
  ]
 },
 {
  "width": 396, "height": 628,
  "title": {"text": "B.)"},
  "layer": [
   {"data": {"name": "b"}, "mark": {"type": "circle", "size": 78, "opacity": 1},
    "encoding": {
     "x": {"field": "x", "type": "quantitative", "scale": {"domain": [-36, 758], "nice": false, "zero": false}, "axis": {"title": "Average Incoming Radiation (W m⁻² )", "values": [0, 200, 400, 600], "titlePadding": 8}},
     "y": {"field": "y", "type": "quantitative", "scale": {"domain": [-3.5, 73.5], "nice": false, "zero": false}, "axis": {"title": null, "values": [0, 20, 40, 60]}},
     "color": {"field": "Trap", "type": "nominal"}
    }},
   {"data": {"name": "lb"}, "mark": {"type": "line", "color": "black", "strokeWidth": 2, "clip": true},
    "encoding": {"x": {"field": "x", "type": "quantitative"}, "y": {"field": "y", "type": "quantitative"}}}
  ]
 },
 {
  "width": 396, "height": 641,
  "title": {"text": "C.)"},
  "layer": [
   {"data": {"name": "c"}, "mark": {"type": "circle", "size": 78, "opacity": 1},
    "encoding": {
     "x": {"field": "x", "type": "quantitative", "scale": {"domain": [-3.5, 73.5], "nice": false, "zero": false}, "axis": {"title": "Bubble Detections (predicted)", "values": [0, 20, 40, 60], "titlePadding": 1}},
     "y": {"field": "y", "type": "quantitative", "scale": {"domain": [-3.5, 73.5], "nice": false, "zero": false}, "axis": {"title": null, "values": [0, 20, 40, 60]}},
     "color": {"field": "Trap", "type": "nominal"}
    }},
   {"data": {"name": "lc"}, "mark": {"type": "line", "color": "black", "strokeWidth": 2, "clip": true},
    "encoding": {"x": {"field": "x", "type": "quantitative"}, "y": {"field": "y", "type": "quantitative"}}},
   {"data": {"name": "ld"}, "mark": {"type": "line", "color": "black", "strokeWidth": 2, "strokeDash": [8, 6], "clip": true},
    "encoding": {"x": {"field": "x", "type": "quantitative"}, "y": {"field": "y", "type": "quantitative"}}}
  ]
 }
]
}
